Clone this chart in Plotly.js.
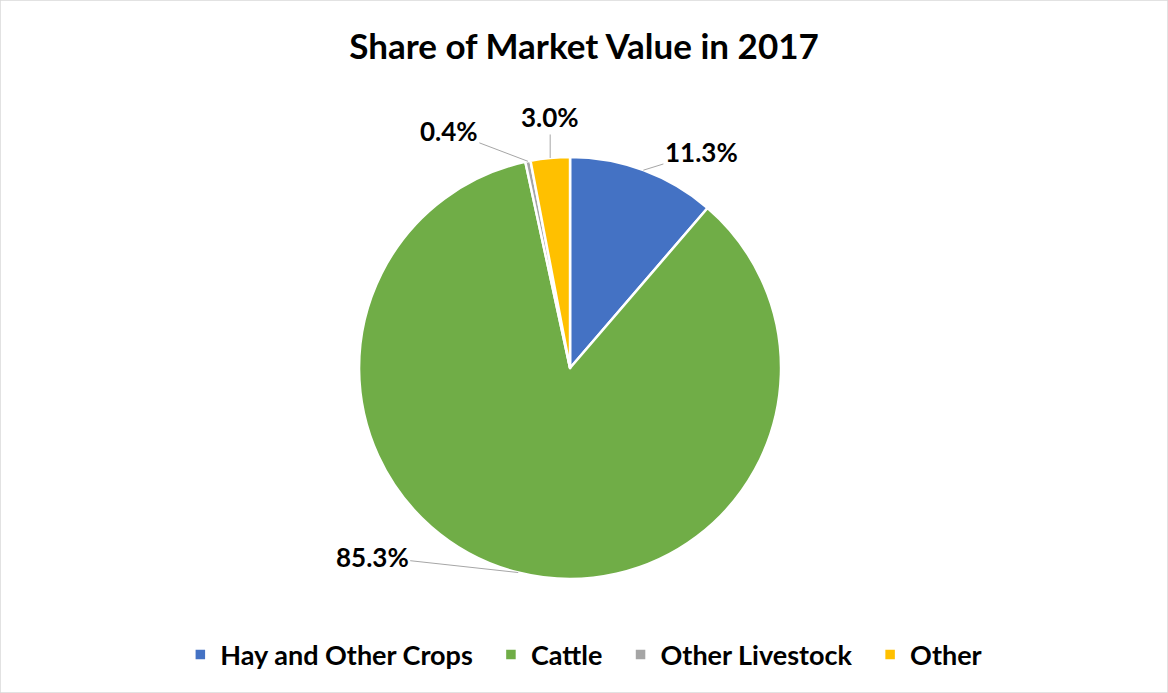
<!DOCTYPE html>
<html>
<head>
<meta charset="utf-8">
<script src="https://cdn.plot.ly/plotly-3.0.1.min.js"></script>
<style>html,body{margin:0;padding:0;background:#fff;}#chart{width:1168px;height:693px;}</style>
</head>
<body>
<div id="chart"></div>
<script>
// Data
const categories = ["Hay and Other Crops", "Cattle", "Other Livestock", "Other"];
const shares = [11.3, 85.3, 0.4, 3.0];
const colors = ["#4472C4", "#70AD47", "#A5A5A5", "#FFC000"];
const labelOffsets = [[58, -18], [-146, -16], [-79, -30], [0, -41]]; // text offsets (px) from slice edge

const W = 1168, H = 693;
const dom = {x: [0.3074, 0.6687], y: [0.1645, 0.7734]};
const cx = (dom.x[0] + dom.x[1]) / 2, cy = (dom.y[0] + dom.y[1]) / 2;
const Rpx = Math.min((dom.x[1] - dom.x[0]) * W, (dom.y[1] - dom.y[0]) * H) / 2;
const total = shares.reduce((a, b) => a + b, 0);

let cum = 0;
const annotations = shares.map((v, i) => {
  const mid = (cum + v / 2) / total * 2 * Math.PI;
  cum += v;
  return {
    xref: 'paper', yref: 'paper',
    x: cx + Rpx * Math.sin(mid) / W,
    y: cy + Rpx * Math.cos(mid) / H,
    text: v.toFixed(1) + '%',
    showarrow: true, arrowhead: 0, arrowwidth: 1, arrowcolor: '#A6A6A6',
    standoff: 0, startstandoff: 0,
    ax: labelOffsets[i][0], ay: labelOffsets[i][1],
    font: {family: 'Lato, sans-serif', size: 26, color: '#000000', weight: 'bold'}
  };
});

const trace = {
  type: 'pie',
  labels: categories.map(c => c + '\u00A0\u00A0'),
  values: shares,
  sort: false,
  direction: 'clockwise',
  rotation: 0,
  textinfo: 'none',
  hoverinfo: 'label+percent',
  marker: {colors: colors, line: {color: '#FFFFFF', width: 2.5}},
  domain: dom,
  automargin: false
};

const layout = {
  width: W, height: H,
  margin: {l: 0, r: 0, t: 0, b: 0},
  paper_bgcolor: '#FFFFFF',
  title: {text: '<b>Share of Market Value in 2017</b>', x: 0.5, xanchor: 'center', y: 0.932, yanchor: 'middle',
          font: {family: 'Lato, sans-serif', size: 35, color: '#000000'}},
  showlegend: true,
  legend: {orientation: 'h', x: 0.505, xanchor: 'center', y: 0.055, yanchor: 'middle',
           font: {family: 'Lato, sans-serif', size: 27, color: '#000000', weight: 'bold'},
           itemclick: false, itemdoubleclick: false},
  annotations: annotations,
  shapes: [{type: 'rect', xref: 'paper', yref: 'paper', x0: 0, x1: 1, y0: 0, y1: 1,
            line: {color: '#D9D9D9', width: 1.5}, fillcolor: 'rgba(0,0,0,0)'}]
};

Plotly.newPlot('chart', [trace], layout, {displayModeBar: false, staticPlot: true});
</script>
</body>
</html>
